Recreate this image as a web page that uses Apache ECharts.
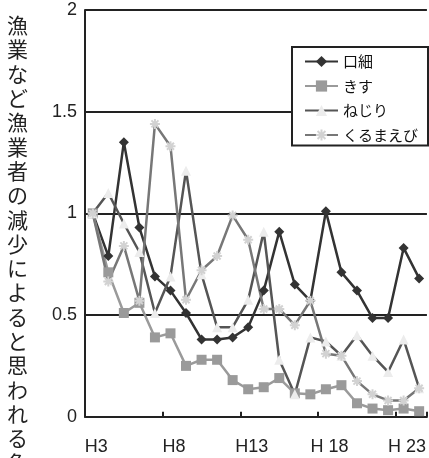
<!DOCTYPE html>
<html>
<head>
<meta charset="utf-8">
<script src="https://cdn.jsdelivr.net/npm/echarts@6/dist/echarts.min.js"></script>
<style>
  html, body { margin: 0; padding: 0; background: #fff; }
  #chart { width: 429px; height: 458px; }
</style>
</head>
<body>
<div id="chart"></div>
<script>
// Fiscal years (Heisei) along the x axis
const years = ['H3','H4','H5','H6','H7','H8','H9','H10','H11','H12','H13','H14','H15','H16','H17',
               'H 18','H 19','H 20','H 21','H 22','H 23','H 24'];

// Catch index per species (first year = 1)
const kuchiboso = [1.0, 0.79, 1.35, 0.93, 0.69, 0.62, 0.51, 0.38, 0.38, 0.39, 0.44, 0.62, 0.91, 0.65, 0.57,
                   1.01, 0.71, 0.62, 0.485, 0.485, 0.83, 0.68];
const kisu      = [1.0, 0.71, 0.51, 0.56, 0.39, 0.41, 0.25, 0.28, 0.28, 0.18, 0.135, 0.145, 0.19, 0.115, 0.11,
                   0.135, 0.155, 0.066, 0.04, 0.032, 0.04, 0.027];
const nejiri    = [1.0, 1.10, 0.95, 0.81, 0.51, 0.69, 1.21, 0.70, 0.44, 0.44, 0.575, 0.91, 0.28, 0.11, 0.39,
                   0.37, 0.30, 0.40, 0.30, 0.22, 0.38, 0.14];
const kurumaebi = [1.0, 0.665, 0.84, 0.57, 1.44, 1.33, 0.575, 0.72, 0.79, 0.99, 0.87, 0.53, 0.53, 0.45, 0.57,
                   0.31, 0.30, 0.175, 0.11, 0.08, 0.08, 0.14];

// Y axis range
const yMin = 0, yMax = 2, yStep = 0.5;

const axisTitle = '漁業など漁業者の減少によると思われる魚';

const textFont = '"Liberation Sans", Arial, sans-serif';
const jpFont = '"Noto Sans CJK JP", sans-serif';

const asterisk = 'path://M0,5 L10,5 M5,0 L5,10 M1.5,1.5 L8.5,8.5 M8.5,1.5 L1.5,8.5';

const chart = echarts.init(document.getElementById('chart'), null, { renderer: 'canvas', devicePixelRatio: 1 });

chart.setOption({
  animation: false,
  backgroundColor: '#ffffff',
  grid: { left: 85, top: 10, width: 347.6, height: 406.7, containLabel: false },
  legend: {
    orient: 'vertical',
    left: 292,
    top: 47,
    backgroundColor: '#ffffff',
    borderColor: '#222',
    borderWidth: 2,
    borderRadius: 0,
    padding: [7, 10, 3, 12],
    itemWidth: 33,
    itemHeight: 14,
    itemGap: 9.5,
    textStyle: { fontFamily: jpFont, fontSize: 15, color: '#111' },
    data: ['口細', 'きす', 'ねじり', 'くるまえび']
  },
  xAxis: {
    type: 'category',
    data: years,
    boundaryGap: true,
    axisLine: { lineStyle: { color: '#222', width: 2 } },
    axisTick: { show: true, inside: true, length: 5, interval: 4, lineStyle: { color: '#222', width: 2 } },
    axisLabel: { interval: 4, margin: 21, fontFamily: textFont, fontSize: 18, color: '#222', padding: [0, 0, 0, 7] },
    splitLine: { show: false }
  },
  yAxis: {
    type: 'value',
    min: yMin,
    max: yMax,
    interval: yStep,
    axisLine: { show: true, lineStyle: { color: '#222', width: 2 } },
    axisTick: { show: false },
    axisLabel: { margin: 8, fontFamily: textFont, fontSize: 18, color: '#222' },
    splitLine: { show: true, lineStyle: { color: '#222', width: 2 } }
  },
  graphic: [{
    type: 'text',
    left: 7,
    top: 13,
    style: {
      text: axisTitle.split('').join('\n'),
      font: '21px ' + jpFont,
      lineHeight: 24.3,
      fill: '#222',
      align: 'center'
    }
  }],
  series: [
    {
      name: '口細', type: 'line', data: kuchiboso,
      symbol: 'diamond', symbolSize: 10,
      lineStyle: { color: '#333', width: 2.5 },
      itemStyle: { color: '#333' }
    },
    {
      name: 'きす', type: 'line', data: kisu,
      symbol: 'rect', symbolSize: 10,
      lineStyle: { color: '#9a9a9a', width: 2.5 },
      itemStyle: { color: '#9a9a9a' }
    },
    {
      name: 'ねじり', type: 'line', data: nejiri,
      symbol: 'triangle', symbolSize: 10,
      lineStyle: { color: '#555', width: 2.5 },
      itemStyle: { color: '#ececec' }
    },
    {
      name: 'くるまえび', type: 'line', data: kurumaebi,
      symbol: asterisk, symbolSize: 10,
      lineStyle: { color: '#777', width: 2.5 },
      itemStyle: { color: '#dddddd', borderColor: '#d2d2d2', borderWidth: 2 }
    }
  ]
});
</script>
</body>
</html>
